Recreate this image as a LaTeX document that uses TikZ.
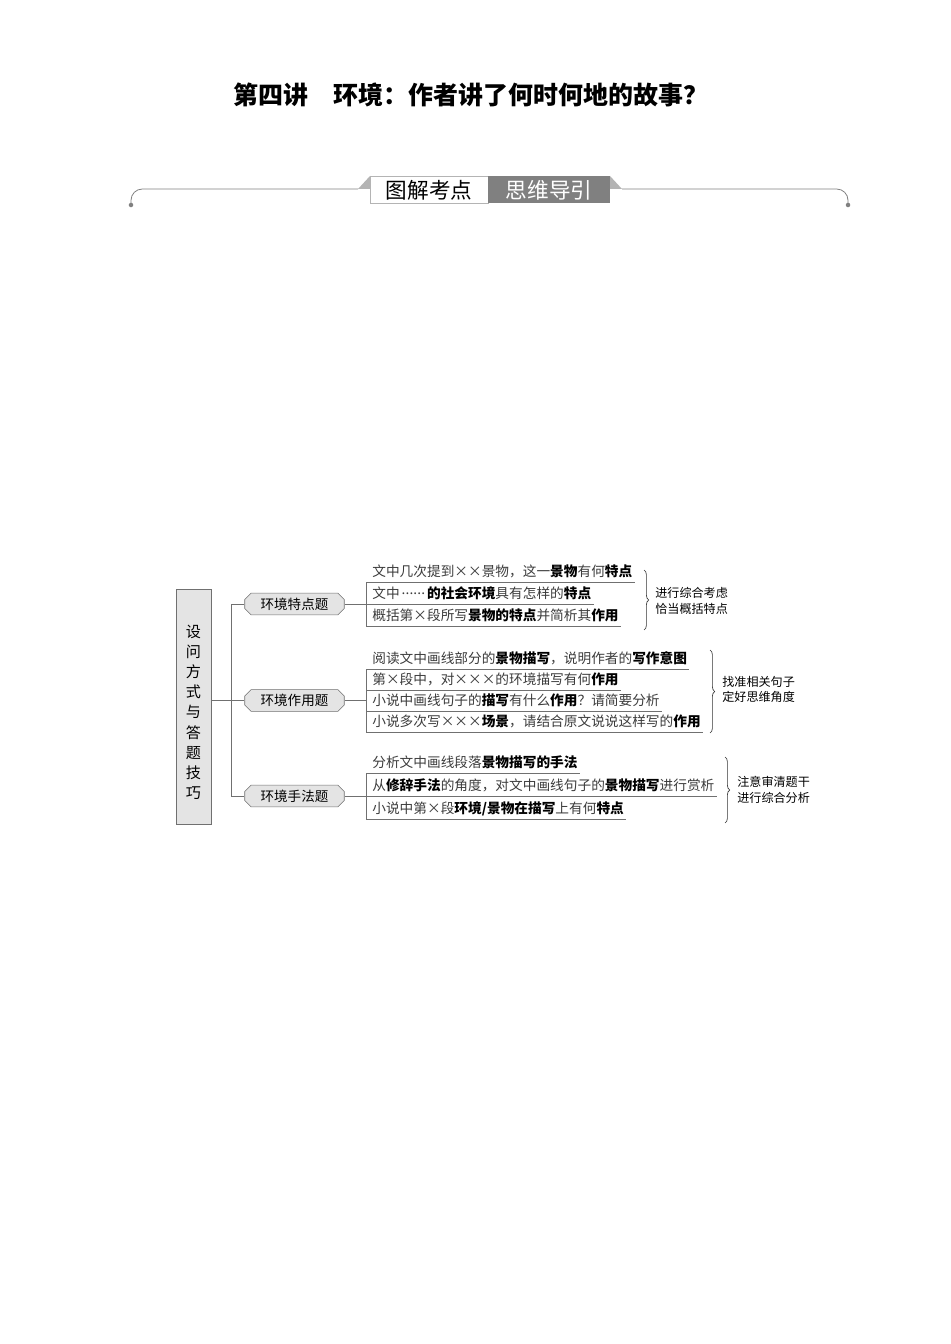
\documentclass[tikz,border=0pt]{standalone}
\usepackage{fontspec}
\setmainfont{Noto Sans CJK SC}
\usetikzlibrary{shapes.misc,decorations.pathreplacing}
\definecolor{linegray}{HTML}{707070}
\definecolor{boxgray}{HTML}{E4E4E4}
\definecolor{tabgray}{HTML}{808080}
\definecolor{eargray}{HTML}{B4B4B4}
\definecolor{txtgray}{HTML}{3C3C3C}
\newcommand{\kw}[1]{{\bfseries\color{black}#1}}
\newcommand{\xx}{\makebox[1em]{×}}
\newcommand{\dotone}{\raisebox{0.28em}{\makebox[0pt]{.}}}
\newcommand{\dotsix}{\makebox[2em][s]{\hfil\dotone\hfil\dotone\hfil\dotone\hfil\dotone\hfil\dotone\hfil\dotone\hfil}}

\begin{document}
\begin{tikzpicture}[x=0.0221cm, y=-0.0221cm,
	rootnode/.style={draw=linegray, fill=boxgray, minimum width=0.77cm, minimum height=5.2cm},
	roottext/.style={align=center, inner sep=0pt, yshift=-3.3pt, font=\fontsize{9.5}{12.7}\selectfont},
	topic/.style={draw=linegray, fill=boxgray, chamfered rectangle, chamfered rectangle xsep=2pt, chamfered rectangle ysep=2pt, minimum width=2.2cm, minimum height=0.48cm, inner sep=0pt, font=\fontsize{8.5}{10}\selectfont},
	item/.style={anchor=south west, inner xsep=0pt, inner ysep=3.4pt, text depth=0pt, text=txtgray, font=\fontsize{8.6}{10}\selectfont, execute at begin node=\hspace*{3.8pt}, execute at end node=\hspace*{1.3pt}},
	note/.style={anchor=west, align=left, inner sep=0pt, font=\fontsize{7.6}{9.7}\selectfont},
	link/.style={draw=linegray, line width=0.5pt},
	curly/.style={draw=black!80, line width=0.4pt, decorate, decoration={brace, amplitude=3pt}}]
	\useasboundingbox[fill=white] (0,0) rectangle (950,1344);

	\node[font=\fontsize{15.7}{18}\selectfont\bfseries] at (471,95) (title) {第四讲\hspace{1em}环境：作者讲了何时何地的故事？};

	\draw[link, draw=tabgray, rounded corners=0.25cm] (131,205) |- (358,189);
	\draw[link, draw=tabgray, rounded corners=0.25cm] (848,205) |- (622,189);
	\fill[tabgray] (131,205) circle (0.05cm);
	\fill[tabgray] (848,205) circle (0.05cm);
	\fill[eargray] (358,189) -- (370,176) -- (370,189) -- cycle;
	\fill[eargray] (610,176) -- (622,189) -- (610,189) -- cycle;
	\draw[draw=eargray, fill=white] (370,176) rectangle (488,203);
	\fill[tabgray] (488,176) rectangle (610,203);
	\node[font=\fontsize{13.6}{16}\selectfont] at (429,190) (tabl) {图解考点};
	\node[font=\fontsize{13.6}{16}\selectfont, text=white] at (549,190) (tabr) {思维导引};

	\node[rootnode, label={[roottext]center:设\\问\\方\\式\\与\\答\\题\\技\\巧}] at (193.5,707) (root) {};

	\node[topic] at (294.5,604) (t1) {环境特点题};
	\node[topic] at (294.5,700.5) (t2) {环境作用题};
	\node[topic] at (294.5,796) (t3) {环境手法题};

	\coordinate (trunk) at (231,700.5);
	\draw[link] (root.east |- t2.west) -- (t2.west);
	\draw[link] (t1.west) -- (t1.west -| trunk) -- (t3.west -| trunk) -- (t3.west);

	\node[item] at (366,582) (a1) {文中几次提到\xx\xx 景物，这一\kw{景物}有何\kw{特点}};
	\node[item] at (366,604) (a2) {文中\dotsix\kw{的社会环境}具有怎样的\kw{特点}};
	\node[item] at (366,626) (a3) {概括第\xx 段所写\kw{景物的特点}并简析其\kw{作用}};

	\node[item] at (366,669) (b1) {阅读文中画线部分的\kw{景物描写}，说明作者的\kw{写作意图}};
	\node[item] at (366,690) (b2) {第\xx 段中，对\xx\xx\xx 的环境描写有何\kw{作用}};
	\node[item] at (366,711) (b3) {小说中画线句子的\kw{描写}有什么\kw{作用}？请简要分析};
	\node[item] at (366,732) (b4) {小说多次写\xx\xx\xx\kw{场景}，请结合原文说说这样写的\kw{作用}};

	\node[item] at (366,773) (c1) {分析文中画线段落\kw{景物描写的手法}};
	\node[item] at (366,796) (c2) {从\kw{修辞手法}的角度，对文中画线句子的\kw{景物描写}进行赏析};
	\node[item] at (366,819) (c3) {小说中第\xx 段\kw{环境/景物在描写}上有何\kw{特点}};

	\foreach \i in {a1,a2,a3,b1,b2,b3,b4,c1,c2,c3}
		\draw[link] (\i.south west) -- (\i.south east);
	\draw[link] (a1.south west) -- (a3.south west);
	\draw[link] (b1.south west) -- (b4.south west);
	\draw[link] (c1.south west) -- (c3.south west);
	\draw[link] (t1.east) -- (t1.east -| a1.south west);
	\draw[link] (t2.east) -- (t2.east -| b1.south west);
	\draw[link] (t3.east) -- (t3.east -| c1.south west);

	\coordinate (ba1) at (644,570);
	\coordinate (ba2) at (644,630);
	\coordinate (bb1) at (710,650);
	\coordinate (bb2) at (710,733);
	\coordinate (bc1) at (725,757);
	\coordinate (bc2) at (725,823);
	\draw[curly] (ba1) -- (ba2);
	\draw[curly] (bb1) -- (bb2);
	\draw[curly] (bc1) -- (bc2);
	\node[note] at (655,601) (na) {进行综合考虑\\恰当概括特点};
	\node[note] at (722,689.5) (nb) {找准相关句子\\定好思维角度};
	\node[note] at (737,790) (nc) {注意审清题干\\进行综合分析};
\end{tikzpicture}
\end{document}
